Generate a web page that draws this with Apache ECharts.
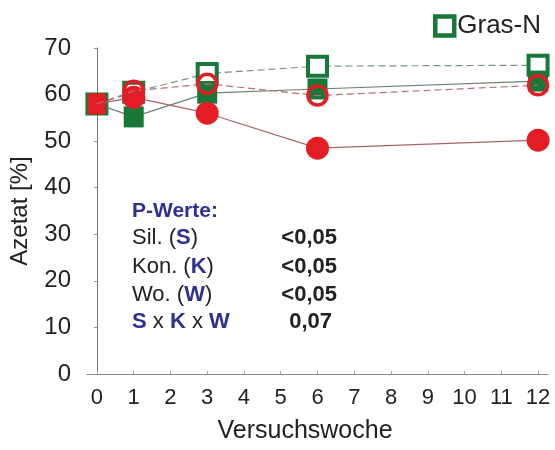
<!DOCTYPE html>
<html>
<head>
<meta charset="utf-8">
<script src="https://cdn.jsdelivr.net/npm/echarts@6/dist/echarts.min.js"></script>
<style>
  html, body { margin: 0; padding: 0; background: #fff; }
  #chart { width: 555px; height: 450px; }
</style>
</head>
<body>
<div id="chart"></div>
<script>
// Acetate share per trial week
const weeks = [0, 1, 3, 6, 12];
const weekTicks = [0, 1, 2, 3, 4, 5, 6, 7, 8, 9, 10, 11, 12];
const yTicks = [0, 10, 20, 30, 40, 50, 60, 70];
const grasNOpen = [58, 60.5, 64.5, 66.1, 66.3];
const grasNFilled = [58, 55.2, 60.3, 61.2, 62.9];
const redFilled = [58, 59.4, 56, 48.5, 50.2];
const redOpen = [58, 60.8, 62.3, 59.8, 62.0];

// P-value table
const pLabels = [
  '{n|Sil. (}{b|S}{n|)}',
  '{n|Kon. (}{b|K}{n|)}',
  '{n|Wo. (}{b|W}{n|)}',
  '{b|S}{n| x }{b|K}{n| x }{b|W}'
];
const pValues = ['<0,05', '<0,05', '<0,05', '0,07'];

const GREEN = '#17783a';
const RED = '#e41d25';
const BLUE = '#2e3192';
const FONT = "'Liberation Sans', Arial, sans-serif";

function pairs(vals) { return weeks.map((w, i) => [w, vals[i]]); }

const chart = echarts.init(document.getElementById('chart'), null, { renderer: 'canvas' });

const graphics = [
  {
    type: 'text', z: 100,
    style: { x: 132, y: 211, text: 'P-Werte:', fill: BLUE, font: 'bold 21px ' + FONT, verticalAlign: 'middle' }
  }
];
const rowY = [238, 267, 295, 322];
pLabels.forEach((t, i) => {
  graphics.push({
    type: 'text', z: 100,
    style: {
      x: 132, y: rowY[i], text: t, verticalAlign: 'middle',
      rich: {
        n: { fontSize: 22, fontFamily: FONT, fill: '#222' },
        b: { fontSize: 22, fontFamily: FONT, fontWeight: 'bold', fill: BLUE }
      }
    }
  });
  graphics.push({
    type: 'text', z: 100,
    style: {
      x: i === 3 ? 332 : 337, y: rowY[i], text: pValues[i], align: 'right', verticalAlign: 'middle',
      fill: '#222', font: 'bold 22px ' + FONT
    }
  });
});
graphics.push({
  type: 'text', z: 100,
  style: { x: 305, y: 431, text: 'Versuchswoche', align: 'center', verticalAlign: 'middle', fill: '#222', font: '25px ' + FONT }
});

chart.setOption({
  animation: false,
  backgroundColor: '#fff',
  textStyle: { fontFamily: FONT },
  grid: { left: 87, right: 7, top: 48, bottom: 76 },
  legend: {
    left: 428, top: 8,
    itemWidth: 19, itemHeight: 19,
    itemGap: 4,
    textStyle: { fontSize: 26, color: '#222', fontFamily: FONT, padding: [0, 0, 0, -2] },
    data: [{ name: 'Gras-N', icon: 'rect', itemStyle: { color: '#fff', borderColor: GREEN, borderWidth: 4.5 } }]
  },
  xAxis: {
    type: 'value', min: -0.27, max: 12.27,
    splitLine: { show: false },
    axisLine: { show: true, lineStyle: { color: '#888', width: 1 } },
    axisTick: { show: true, inside: true, length: 3, lineStyle: { color: '#aaa' }, customValues: weekTicks },
    axisLabel: { customValues: weekTicks, fontSize: 22, color: '#222', margin: 13, fontFamily: FONT }
  },
  yAxis: {
    type: 'value', min: 0, max: 70, interval: 10, offset: 10,
    name: 'Azetat [%]', nameLocation: 'middle', nameGap: 45,
    nameTextStyle: { fontSize: 24, color: '#222', fontFamily: FONT },
    splitLine: { show: false },
    axisLine: { show: true, lineStyle: { color: '#777', width: 1 } },
    axisTick: { show: true, length: 3, lineStyle: { color: '#999' } },
    axisLabel: { fontSize: 24, color: '#222', margin: 6, fontFamily: FONT,
      customValues: yTicks }
  },
  graphic: graphics,
  series: [
    {
      name: 'Gras-N', type: 'line', data: pairs(grasNOpen),
      symbol: 'rect', symbolSize: 19,
      itemStyle: { color: '#fff', borderColor: GREEN, borderWidth: 4 },
      lineStyle: { color: '#7a9482', width: 1.2, type: [7, 4] },
      z: 2
    },
    {
      name: 'Gras-N gefüllt', type: 'line', data: pairs(grasNFilled),
      symbol: 'rect', symbolSize: [20, 21],
      itemStyle: { color: GREEN },
      lineStyle: { color: '#6a8572', width: 1.2 },
      z: 3
    },
    {
      name: 'rot gefüllt', type: 'line',
      data: pairs(redFilled).map((p, i) => i === 0 ? { value: p, symbol: 'rect', symbolSize: [18, 21] } : p),
      symbol: 'circle', symbolSize: 23,
      itemStyle: { color: RED },
      lineStyle: { color: '#a86468', width: 1.2 },
      z: 4
    },
    {
      name: 'rot offen', type: 'line', data: pairs(redOpen).map((p, i) => i === 0 ? { value: p, symbol: 'none' } : p),
      symbol: 'circle', symbolSize: 19,
      itemStyle: { color: 'rgba(255,255,255,0)', borderColor: RED, borderWidth: 3.5 },
      lineStyle: { color: '#b47074', width: 1.2, type: [7, 4] },
      z: 5
    }
  ]
});
</script>
</body>
</html>
